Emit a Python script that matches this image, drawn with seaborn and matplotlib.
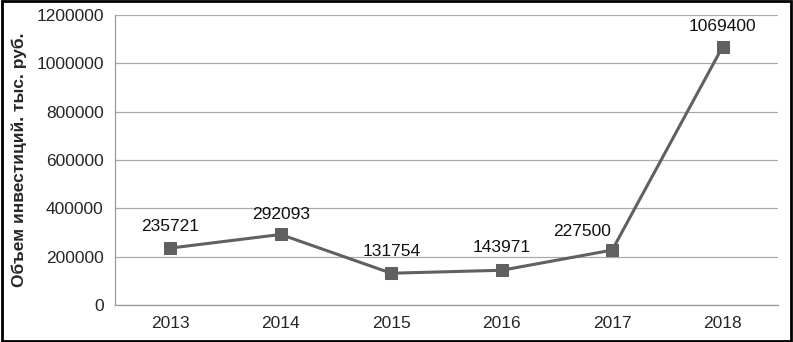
import matplotlib
matplotlib.use('Agg')
import matplotlib.pyplot as plt
import seaborn as sns
from matplotlib.patches import Rectangle

years = ['2013', '2014', '2015', '2016', '2017', '2018']
invest = [235721, 292093, 131754, 143971, 227500, 1069400]
y_ticks = [0, 200000, 400000, 600000, 800000, 1000000, 1200000]

sns.set_style('white')
plt.rcParams['font.family'] = ['Liberation Sans', 'DejaVu Sans']

fig = plt.figure(figsize=(7.93, 3.42), dpi=100)
ax = fig.add_axes([0.145, 0.108, 0.836, 0.848])

pos = list(range(len(years)))
sns.lineplot(x=pos, y=invest, ax=ax, color='#606060', linewidth=2.2,
             marker='s', markersize=9, markeredgecolor='#606060')

# label offsets (points), placed like in the original
offsets = [(0, 10), (0, 9), (0, 10), (0, 11), (-22, 8), (0, 9)]
for i, v in enumerate(invest):
    ax.annotate(str(v), (i, v), xytext=offsets[i], textcoords='offset points',
                ha='center', va='bottom', fontsize=12.5, color='#111111')

ax.set_xlim(-0.5, 5.5)
ax.set_ylim(0, 1200000)
ax.set_yticks(y_ticks)
ax.set_yticklabels([str(t) for t in y_ticks], fontsize=12.5)
ax.set_xticks(pos)
ax.set_xticklabels(years, fontsize=12.5)
ax.set_xticks([p - 0.5 for p in range(len(years) + 1)], minor=True)
ax.tick_params(axis='x', which='major', length=0, pad=8)
ax.tick_params(axis='x', which='minor', length=4, color='#999999', direction='out')
ax.tick_params(axis='y', length=5, color='#999999', direction='out', pad=3)
ax.grid(axis='y', color='#aaaaaa', linewidth=0.9)
ax.set_axisbelow(True)
for s in ['top', 'right']:
    ax.spines[s].set_visible(False)
for s in ['left', 'bottom']:
    ax.spines[s].set_color('#999999')
    ax.spines[s].set_linewidth(0.9)

ax.set_ylabel('Объем инвестиций. тыс. руб.', fontsize=12.5, fontweight='bold')
ax.yaxis.set_label_coords(-(115 - 27) / 663, 0.5)

fig.patches.append(Rectangle((0.002, 0.003), 0.996, 0.994, transform=fig.transFigure,
                             fill=False, edgecolor='black', linewidth=2))

fig.savefig('out.png', dpi=100)
